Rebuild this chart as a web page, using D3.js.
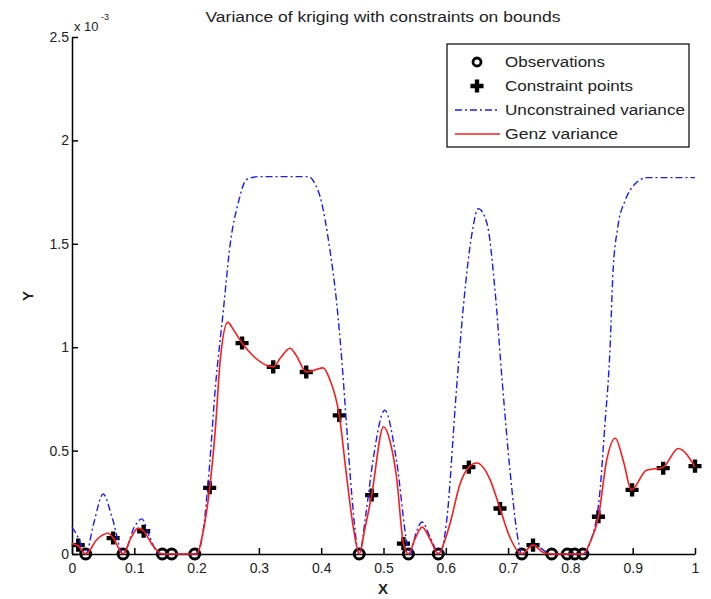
<!DOCTYPE html>
<html lang="en">
<head>
<meta charset="UTF-8">
<title>Variance of kriging with constraints on bounds</title>
<script src="https://cdn.jsdelivr.net/npm/d3@7"></script>
<style>
  body { margin: 0; background: #fff; }
  text { font-family: "Liberation Sans", Arial, sans-serif; fill: #222; }
</style>
</head>
<body>
<script>
// observation abscissas (all at zero variance)
const obsX = [0.022, 0.082, 0.145, 0.16, 0.197, 0.461, 0.54, 0.588, 0.722, 0.77, 0.795, 0.807, 0.82];

// constraint points
const consX = [0.01, 0.066, 0.115, 0.221, 0.273, 0.323, 0.376, 0.429, 0.481, 0.532, 0.637, 0.687, 0.74, 0.845, 0.899, 0.949, 1.0];
const consY = [0.043, 0.077, 0.11, 0.32, 1.02, 0.905, 0.88, 0.67, 0.285, 0.05, 0.42, 0.22, 0.043, 0.18, 0.31, 0.415, 0.425];

// unconstrained variance (x 1e-3)
const uncX = [0, 0.01, 0.022, 0.035, 0.05, 0.065, 0.082, 0.1, 0.112, 0.125, 0.14, 0.2, 0.21, 0.22, 0.23, 0.243, 0.254, 0.267, 0.28, 0.3, 0.38, 0.39, 0.398, 0.414, 0.425, 0.433, 0.441, 0.449, 0.461, 0.472, 0.483, 0.502, 0.521, 0.538, 0.543, 0.552, 0.562, 0.575, 0.59, 0.601, 0.617, 0.628, 0.642, 0.652, 0.666, 0.679, 0.69, 0.703, 0.716, 0.722, 0.74, 0.77, 0.82, 0.831, 0.847, 0.855, 0.864, 0.868, 0.876, 0.888, 0.904, 0.923, 1.0];
const uncY = [0.13, 0.08, 0, 0.15, 0.29, 0.17, 0, 0.13, 0.17, 0.08, 0, 0, 0.1, 0.4, 0.8, 1.18, 1.5, 1.7, 1.81, 1.825, 1.825, 1.79, 1.73, 1.47, 1.21, 0.94, 0.61, 0.29, 0, 0.2, 0.45, 0.695, 0.45, 0.05, 0, 0.1, 0.155, 0.08, 0, 0.15, 0.79, 1.19, 1.55, 1.67, 1.6, 1.275, 0.855, 0.405, 0.07, 0, 0.045, 0, 0, 0.05, 0.29, 0.61, 1.02, 1.34, 1.58, 1.71, 1.79, 1.82, 1.82];

// Genz variance (x 1e-3)
const genzX = [0, 0.01, 0.022, 0.04, 0.058, 0.066, 0.082, 0.095, 0.106, 0.115, 0.13, 0.145, 0.2, 0.21, 0.221, 0.23, 0.238, 0.25, 0.26, 0.273, 0.29, 0.323, 0.335, 0.35, 0.36, 0.376, 0.39, 0.403, 0.413, 0.429, 0.441, 0.452, 0.461, 0.47, 0.481, 0.5, 0.51, 0.521, 0.532, 0.54, 0.55, 0.562, 0.575, 0.588, 0.6, 0.607, 0.623, 0.637, 0.65, 0.671, 0.687, 0.703, 0.722, 0.74, 0.755, 0.77, 0.82, 0.832, 0.845, 0.858, 0.872, 0.885, 0.898, 0.922, 0.949, 0.973, 1.0];
const genzY = [0.05, 0.04, 0, 0.07, 0.1, 0.078, 0, 0.08, 0.125, 0.11, 0.04, 0, 0, 0.1, 0.32, 0.6, 0.94, 1.12, 1.08, 1.02, 0.96, 0.905, 0.95, 0.995, 0.96, 0.88, 0.89, 0.9, 0.85, 0.67, 0.37, 0.12, 0, 0.12, 0.285, 0.615, 0.55, 0.37, 0.05, 0, 0.07, 0.13, 0.07, 0, 0.08, 0.15, 0.34, 0.42, 0.44, 0.36, 0.22, 0.08, 0, 0.043, 0.01, 0, 0, 0.06, 0.18, 0.45, 0.56, 0.45, 0.31, 0.405, 0.42, 0.51, 0.42];

const xTicks = [0, 0.1, 0.2, 0.3, 0.4, 0.5, 0.6, 0.7, 0.8, 0.9, 1];
const yTicks = [0, 0.5, 1, 1.5, 2, 2.5];
const legendLabels = ["Observations", "Constraint points", "Unconstrained variance", "Genz variance"];

const width = 711, height = 599;
const svg = d3.select("body").append("svg")
    .attr("width", width)
    .attr("height", height);

const x = d3.scaleLinear().domain([0, 1]).range([72, 695]);
const y = d3.scaleLinear().domain([0, 2.5]).range([554, 37]);

// axes with inward ticks
const xAxis = svg.append("g")
    .attr("transform", `translate(0,${y(0)})`)
    .call(d3.axisBottom(x).tickValues(xTicks).tickFormat(d3.format("~g")).tickSizeInner(-6).tickSizeOuter(0).tickPadding(9));
const yAxis = svg.append("g")
    .attr("transform", `translate(${x(0)},0)`)
    .call(d3.axisLeft(y).tickValues(yTicks).tickFormat(d3.format("~g")).tickSizeInner(-6).tickSizeOuter(0).tickPadding(3));

[xAxis, yAxis].forEach(g => {
  g.select(".domain").attr("stroke", "#000").attr("stroke-width", 1.5);
  g.selectAll(".tick line").attr("stroke", "#000").attr("stroke-width", 1.5);
  g.selectAll(".tick text").attr("font-size", 14).attr("fill", "#222")
    .style("font-family", "'Liberation Sans', Arial, sans-serif");
});

// markers
svg.append("g").selectAll("circle")
    .data(obsX)
    .join("circle")
    .attr("cx", d => x(d))
    .attr("cy", y(0))
    .attr("r", 5)
    .attr("fill", "none")
    .attr("stroke", "#000")
    .attr("stroke-width", 3);

const plus = d3.symbol().type(d3.symbolCross).size(95);
svg.append("g").selectAll("path")
    .data(consX)
    .join("path")
    .attr("transform", (d, i) => `translate(${x(d)},${y(consY[i])})`)
    .attr("d", plus)
    .attr("fill", "#000");

// curves
const lineGen = d3.line().x(d => x(d[0])).y(d => y(d[1])).curve(d3.curveMonotoneX);

svg.append("path")
    .datum(uncX.map((d, i) => [d, uncY[i]]))
    .attr("d", lineGen)
    .attr("fill", "none")
    .attr("stroke", "#1a1aff")
    .attr("stroke-width", 1.4)
    .attr("stroke-dasharray", "7,3,2,3");

svg.append("path")
    .datum(genzX.map((d, i) => [d, genzY[i]]))
    .attr("d", lineGen)
    .attr("fill", "none")
    .attr("stroke", "#ff1a1a")
    .attr("stroke-width", 1.6);

// titles
svg.append("text")
    .attr("x", 383).attr("y", 22)
    .attr("text-anchor", "middle")
    .attr("font-size", 14)
    .attr("textLength", 355)
    .attr("lengthAdjust", "spacingAndGlyphs")
    .text("Variance of kriging with constraints on bounds");

svg.append("text")
    .attr("x", 74).attr("y", 31)
    .attr("font-size", 13)
    .text("x 10");
svg.append("text")
    .attr("x", 101).attr("y", 20)
    .attr("font-size", 9)
    .text("-3");

svg.append("text")
    .attr("x", 383).attr("y", 594)
    .attr("text-anchor", "middle")
    .attr("font-size", 15)
    .attr("font-weight", "bold")
    .text("X");

svg.append("text")
    .attr("transform", "translate(33,296) rotate(-90)")
    .attr("text-anchor", "middle")
    .attr("font-size", 15)
    .attr("font-weight", "bold")
    .text("Y");

// legend
const lg = svg.append("g");
lg.append("rect")
    .attr("x", 447).attr("y", 44)
    .attr("width", 242).attr("height", 103)
    .attr("fill", "#fff")
    .attr("stroke", "#000")
    .attr("stroke-width", 1.2);

const rowY = [62, 86, 110, 134];
const textLen = [100, 128, 180, 113];
lg.selectAll("text.lab")
    .data(legendLabels)
    .join("text")
    .attr("class", "lab")
    .attr("x", 505)
    .attr("y", (d, i) => rowY[i] + 5)
    .attr("font-size", 14)
    .attr("textLength", (d, i) => textLen[i])
    .attr("lengthAdjust", "spacingAndGlyphs")
    .text(d => d);

lg.append("circle")
    .attr("cx", 477).attr("cy", rowY[0])
    .attr("r", 4).attr("fill", "none")
    .attr("stroke", "#000").attr("stroke-width", 2.8);
lg.append("path")
    .attr("transform", `translate(477,${rowY[1]})`)
    .attr("d", plus).attr("fill", "#000");
lg.append("line")
    .attr("x1", 455).attr("x2", 500)
    .attr("y1", rowY[2]).attr("y2", rowY[2])
    .attr("stroke", "#1a1aff").attr("stroke-width", 1.4)
    .attr("stroke-dasharray", "7,3,2,3");
lg.append("line")
    .attr("x1", 455).attr("x2", 500)
    .attr("y1", rowY[3]).attr("y2", rowY[3])
    .attr("stroke", "#ff1a1a").attr("stroke-width", 1.6);
</script>
</body>
</html>
